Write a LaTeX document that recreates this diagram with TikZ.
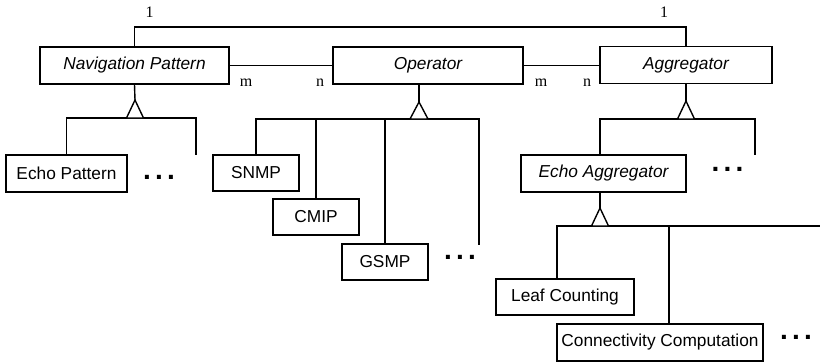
\documentclass[tikz,border=0pt]{standalone}
\usepackage{fontspec}
\setmainfont{Liberation Sans}
\newfontfamily\lblserif{Liberation Serif}
\begin{document}
\begin{tikzpicture}[x=1pt,y=-1pt, line width=1.4pt,
  box/.style={draw, rectangle, inner sep=0pt, font=\fontsize{17.3}{20}\selectfont},
  abox/.style={box, font=\fontsize{17.3}{20}\selectfont\itshape},
  lbl/.style={font=\lblserif\fontsize{16}{18}\selectfont, inner sep=0pt},
  dots/.style={font=\fontsize{28}{28}\selectfont\bfseries, inner sep=0pt},
  inh/.style={draw, fill=white, line join=miter}
]
\useasboundingbox (0,0) rectangle (820,362);

% boxes
\node[abox, minimum width=189, minimum height=37] (nav) at (134.5,65.5) {Navigation Pattern};
\node[abox, minimum width=190, minimum height=37] (op) at (428,65.5) {Operator};
\node[abox, minimum width=172, minimum height=37] (agg) at (686,65) {Aggregator};
\node[box, minimum width=121, minimum height=37] (ep) at (66.5,173.5) {Echo Pattern};
\node[box, minimum width=86, minimum height=36] (snmp) at (256,173) {SNMP};
\node[box, minimum width=86, minimum height=36] (cmip) at (316,217) {CMIP};
\node[box, minimum width=86, minimum height=36] (gsmp) at (385,262) {GSMP};
\node[abox, minimum width=165, minimum height=37] (ea) at (603.5,173.5) {Echo Aggregator};
\node[box, minimum width=138, minimum height=36] (lc) at (565,297) {Leaf Counting};
\node[box, minimum width=206, minimum height=37] (cc) at (660,342.5) {Connectivity Computation};

% associations
\coordinate (top) at (0,27);
\draw (nav.north) |- (agg.north |- top) -- (agg.north);
\draw (nav.east) -- (nav.east -| op.west);
\draw (op.east) -- (op.east -| agg.west);
\node[lbl] (l1) at (149.5,12.5) {1};
\node[lbl] (l2) at (664,12.5) {1};
\node[lbl] (m1) at (246,82.5) {m};
\node[lbl] (n1) at (320,82.5) {n};
\node[lbl] (m2) at (541,83) {m};
\node[lbl] (n2) at (587,83) {n};

% Navigation Pattern hierarchy
\coordinate (navA) at (135,100);
\coordinate (navB) at (135,118);
\coordinate (navR) at (196,155);
\draw (nav.south) -- (navA);
\draw (ep.north) |- (navB -| navR) -- (navR);
\draw[inh] (navA) -- ++(-8.5,18) -- ++(17,0) -- cycle;
\node[dots] (d1) at (159,177) {.\hspace{4.2pt}.\hspace{4.2pt}.};

% Operator hierarchy
\coordinate (opA) at (419,102);
\coordinate (opB) at (419,119);
\coordinate (opR) at (479,245);
\draw (opA |- op.south) -- (opA);
\draw (snmp.north) |- (opB -| opR) -- (opR);
\draw (cmip.north) -- (cmip.north |- opB);
\draw (gsmp.north) -- (gsmp.north |- opB);
\draw[inh] (opA) -- ++(-9,17) -- ++(18,0) -- cycle;
\node[dots] (d2) at (460,257) {.\hspace{4.2pt}.\hspace{4.2pt}.};

% Aggregator hierarchy
\coordinate (agA) at (686,101);
\coordinate (agB) at (686,119);
\coordinate (agR) at (755,155);
\coordinate (agL) at (600,155);
\draw (agg.south) -- (agA);
\draw (agL) |- (agB -| agR) -- (agR);
\draw[inh] (agA) -- ++(-8.5,18) -- ++(17,0) -- cycle;
\node[dots] (d3) at (727.5,169) {.\hspace{4.2pt}.\hspace{4.2pt}.};

% Echo Aggregator hierarchy
\coordinate (eaA) at (600,208);
\coordinate (eaB) at (600,226);
\coordinate (eaR) at (820,226);
\coordinate (lcT) at (557,279);
\coordinate (ccT) at (669,323.5);
\draw (eaA |- ea.south) -- (eaA);
\draw (lcT) |- (eaR);
\draw (ccT) -- (ccT |- eaB);
\draw[inh] (eaA) -- ++(-8.5,18) -- ++(17,0) -- cycle;
\node[dots] (d4) at (796,337) {.\hspace{4.2pt}.\hspace{4.2pt}.};
\end{tikzpicture}
\end{document}
